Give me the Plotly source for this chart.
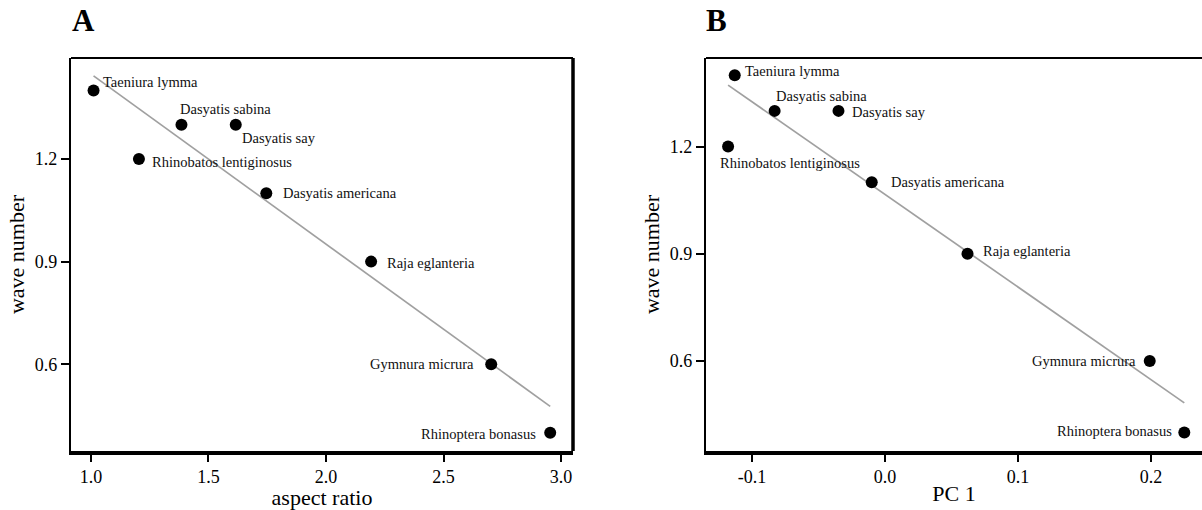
import numpy as np
import plotly.graph_objects as go

# Species and measured values
species = ["Taeniura lymma", "Dasyatis sabina", "Dasyatis say", "Rhinobatos lentiginosus",
           "Dasyatis americana", "Raja eglanteria", "Gymnura micrura", "Rhinoptera bonasus"]
wave_number = [1.40, 1.30, 1.30, 1.20, 1.10, 0.90, 0.60, 0.40]
aspect_ratio = [1.011, 1.385, 1.616, 1.204, 1.746, 2.192, 2.703, 2.954]
pc1 = [-0.113, -0.083, -0.035, -0.118, -0.010, 0.062, 0.199, 0.225]

# Tick values / labels
y_ticks = [0.6, 0.9, 1.2]
y_ticktext = ["0.6", "0.9", "1.2"]
a_ticks = [1.0, 1.5, 2.0, 2.5, 3.0]
a_ticktext = ["1.0", "1.5", "2.0", "2.5", "3.0"]
b_ticks = [-0.1, 0.0, 0.1, 0.2]
b_ticktext = ["-0.1", "0.0", "0.1", "0.2"]

# Label placement per panel: (anchor, x offset px, y offset px)
label_pos_a = [("left", 7, 9), ("left", -3, 16), ("left", 4, -13), ("left", 11, -3),
               ("left", 15, 0), ("left", 14, -1), ("right", -15, 0), ("right", -12, -1)]
label_pos_b = [("left", 8, 4), ("left", -1, 15), ("left", 12, -1), ("left", -10, -16),
               ("left", 17, 0), ("left", 13, 3), ("right", -12, 0), ("right", -10, 1)]

W, H = 1202, 510
SERIF = "Liberation Serif, Times New Roman, serif"

fig = go.Figure()


def add_panel(xs, xaxis, yaxis, positions):
    xref = xaxis.replace("axis", "")
    yref = yaxis.replace("axis", "")
    # least-squares fit line over the range of the data
    slope, intercept = np.polyfit(xs, wave_number, 1)
    fx = np.array([min(xs), max(xs)])
    fig.add_trace(go.Scatter(x=fx, y=slope * fx + intercept, mode="lines",
                             line=dict(color="#a0a0a0", width=1.7),
                             xaxis=xref, yaxis=yref, showlegend=False, hoverinfo="skip"))
    fig.add_trace(go.Scatter(x=xs, y=wave_number, mode="markers",
                             marker=dict(color="black", size=12),
                             xaxis=xref, yaxis=yref, showlegend=False,
                             text=species))
    for name, x, y, (anchor, dx, dy) in zip(species, xs, wave_number, positions):
        fig.add_annotation(x=x, y=y, xref=xref, yref=yref, text=name, showarrow=False,
                           xanchor=anchor, yanchor="middle", xshift=dx, yshift=dy,
                           font=dict(family=SERIF, size=14.5, color="#111"))


add_panel(aspect_ratio, "xaxis", "yaxis", label_pos_a)
add_panel(pc1, "xaxis2", "yaxis2", label_pos_b)

tickfont = dict(family=SERIF, size=18, color="black")
titlefont = dict(family=SERIF, size=22, color="black")
common_x = dict(showgrid=False, zeroline=False, showline=True, linecolor="black", linewidth=3.5,
                ticks="outside", ticklen=7, tickwidth=2, tickcolor="black", tickfont=tickfont)
common_y = dict(showgrid=False, zeroline=False, showline=True, linecolor="black", linewidth=2.2,
                ticks="outside", ticklen=8, tickwidth=2, tickcolor="black", tickfont=tickfont,
                tickvals=y_ticks, ticktext=y_ticktext)

ya_top, ya_bot = 58, 451
dom_y = [1 - ya_bot / H, 1 - ya_top / H]

fig.update_layout(
    width=W, height=H, margin=dict(l=0, r=0, t=0, b=0),
    paper_bgcolor="white", plot_bgcolor="white",
    xaxis=dict(common_x, domain=[71 / W, 573 / W], range=[0.915, 3.051],
               tickvals=a_ticks, ticktext=a_ticktext,
               title=dict(text="aspect ratio", font=titlefont, standoff=0)),
    yaxis=dict(common_y, domain=dom_y, range=[0.3466, 1.495],
               title=dict(text="wave number", font=titlefont, standoff=4)),
    xaxis2=dict(common_x, domain=[706 / W, 1.0], range=[-0.1346, 0.2383], anchor="y2",
                tickvals=b_ticks, ticktext=b_ticktext,
                title=dict(text="PC 1", font=titlefont, standoff=0)),
    yaxis2=dict(common_y, domain=dom_y, range=[0.348, 1.448], anchor="x2",
                title=dict(text="wave number", font=titlefont, standoff=4)),
)

# Box edges: thin top on both panels, heavy right edge on panel A
fig.add_shape(type="line", xref="x domain", yref="y domain", x0=0, x1=1, y0=1, y1=1,
              line=dict(color="black", width=2))
fig.add_shape(type="line", xref="x domain", yref="y domain", x0=1, x1=1, y0=0, y1=1,
              line=dict(color="black", width=3.5))
fig.add_shape(type="line", xref="x2 domain", yref="y2 domain", x0=0, x1=1, y0=1, y1=1,
              line=dict(color="black", width=2))

# Panel letters
fig.add_annotation(x=83 / W, y=1 - 21 / H, xref="paper", yref="paper", text="<b>A</b>",
                   showarrow=False, xanchor="center", yanchor="middle",
                   font=dict(family=SERIF, size=31, color="black"))
fig.add_annotation(x=716 / W, y=1 - 21 / H, xref="paper", yref="paper", text="<b>B</b>",
                   showarrow=False, xanchor="center", yanchor="middle",
                   font=dict(family=SERIF, size=31, color="black"))

fig.write_html("out.html")
